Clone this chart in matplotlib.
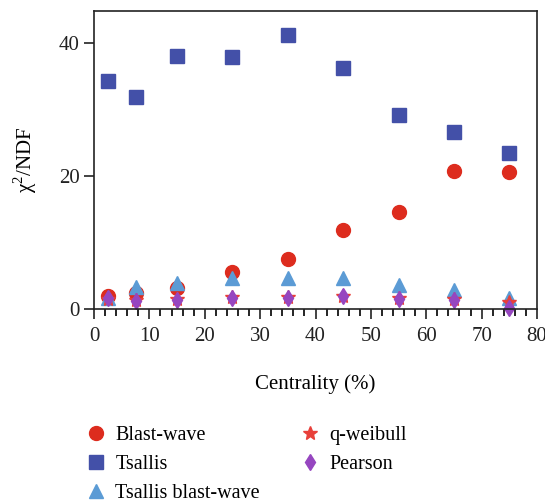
import numpy as np
import matplotlib
matplotlib.use("Agg")
import matplotlib.pyplot as plt
from matplotlib.ticker import MultipleLocator

plt.rcParams['font.family'] = ['Liberation Serif', 'DejaVu Serif']
plt.rcParams['mathtext.fontset'] = 'custom'
plt.rcParams['mathtext.rm'] = 'Liberation Serif'

# Centrality bin centres (%)
centrality = [2.5, 7.5, 15, 25, 35, 45, 55, 65, 75]

# chi^2/NDF for each model
blast_wave = [2.0, 2.4, 3.2, 5.6, 7.5, 11.9, 14.6, 20.7, 20.6]
tsallis = [34.3, 31.9, 38.1, 37.9, 41.2, 36.3, 29.2, 26.6, 23.5]
tsallis_bw = [1.6, 3.3, 3.9, 4.6, 4.7, 4.7, 3.6, 2.9, 1.6]
q_weibull = [1.5, 1.3, 1.5, 1.8, 1.8, 2.0, 1.7, 1.5, 1.1]
pearson = [1.6, 1.2, 1.4, 1.6, 1.7, 1.9, 1.5, 1.4, 0.1]

fig = plt.figure(figsize=(5.45, 5.03), dpi=100)
ax = fig.add_axes([0.1725, 0.3857, 0.8128, 0.5924])

kw = dict(linestyle='none', clip_on=False)
h1, = ax.plot(centrality, blast_wave, marker='o', ms=10, color='#dd2c1e', label='Blast-wave', **kw)
h2, = ax.plot(centrality, tsallis, marker='s', ms=10, color='#4350a8', label='Tsallis', **kw)
h3, = ax.plot(centrality, tsallis_bw, marker='^', ms=10, color='#5b9bd5', label='Tsallis blast-wave', **kw)
h4, = ax.plot(centrality, q_weibull, marker='*', ms=10, color='#e8403a', label='q-weibull', **kw)
h5, = ax.plot(centrality, pearson, marker='d', ms=8, color='#9646c0', label='Pearson', **kw)

ax.set_xlim(0, 80)
ax.set_ylim(0, 44.8)
ax.xaxis.set_major_locator(MultipleLocator(10))
ax.xaxis.set_minor_locator(MultipleLocator(2))
ax.yaxis.set_major_locator(MultipleLocator(20))
ax.tick_params(axis='both', which='major', direction='out', length=7, width=1.2, labelsize=15, colors='#222222')
ax.tick_params(axis='x', which='major', pad=6)
ax.tick_params(axis='x', which='minor', direction='out', length=5, width=1.2)
for s in ax.spines.values():
    s.set_linewidth(1.2)
    s.set_color('#222222')

ax.set_xlabel('Centrality (%)', fontsize=15, labelpad=20)
ax.set_ylabel('χ$^{\\mathregular{2}}$/NDF', fontsize=15, labelpad=14)

fig.legend(handles=[h1, h2, h3, h4, h5], ncol=2, frameon=False, fontsize=14.5,
           loc='upper left', bbox_to_anchor=(0.125, 0.19),
           handletextpad=0.45, columnspacing=2.0, labelspacing=0.5, handlelength=1.0)

fig.savefig('out.png', dpi=100)
